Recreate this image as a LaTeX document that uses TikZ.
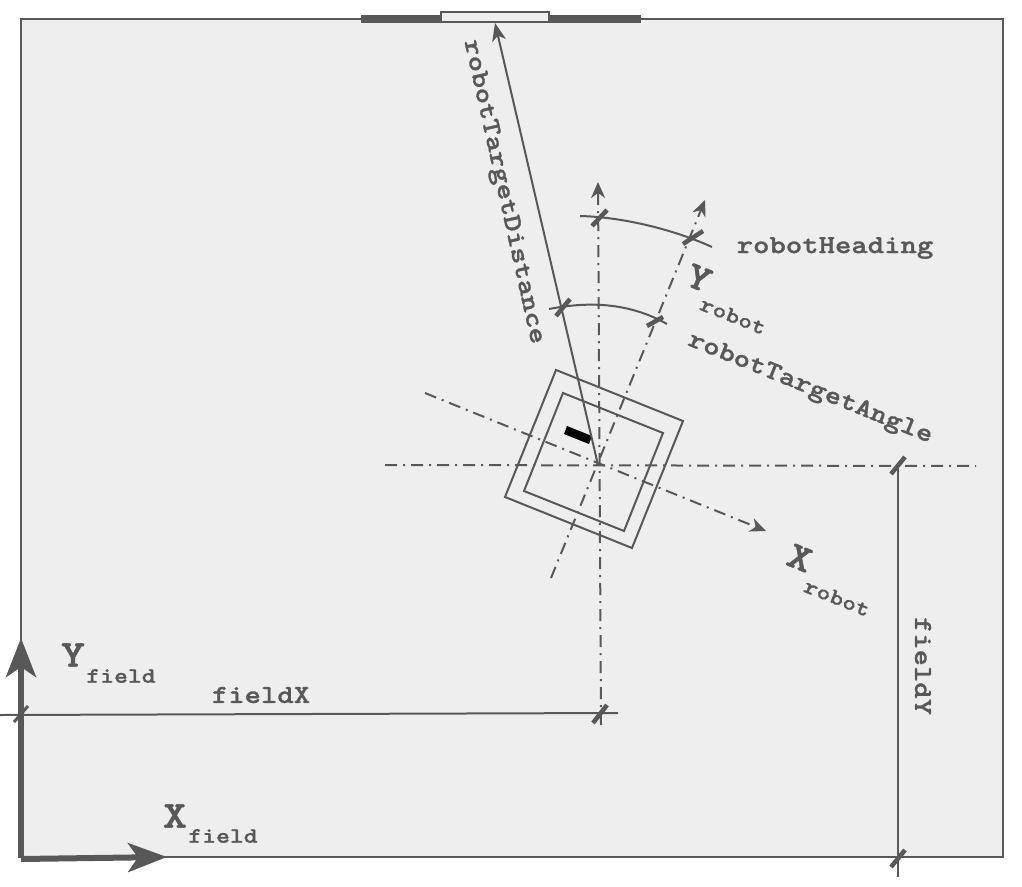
\documentclass[tikz,border=0pt]{standalone}
\usepackage{fontspec}
\usetikzlibrary{arrows.meta}
\newfontfamily\labelfont[Extension=.otf,FakeStretch=1.2,FakeBold=1.2]{lmmonolt10-bold}
\definecolor{inkgray}{HTML}{585858}
\definecolor{fieldgray}{HTML}{EEEEEE}
\begin{document}
\begin{tikzpicture}[x=1pt,y=-1pt,
    line/.style={draw=inkgray,line width=2pt},
    axisline/.style={line,line width=2pt,dash pattern=on 12pt off 6pt on 2pt off 6pt,
        -{Stealth[length=16pt,width=14pt,inset=5pt]}},
    tick/.style={line,line width=4.5pt},
    dimtext/.style={inner sep=0pt,text=inkgray,font=\labelfont\fontsize{26}{26}\selectfont},
    bigtext/.style={inner sep=0pt,text=inkgray,font=\labelfont\fontsize{38}{38}\selectfont},
    subtext/.style={inner sep=0pt,text=inkgray,font=\labelfont\fontsize{22}{22}\selectfont}]
    \useasboundingbox (0,0) rectangle (1022,886);
    % field
    \coordinate (fieldNW) at (21,19);
    \coordinate (fieldSE) at (1003,857);
    \draw[line,fill=fieldgray] (fieldNW) rectangle (fieldSE);
    % target
    \coordinate (wallL) at (361,19);
    \coordinate (wallR) at (641,19);
    \coordinate (goalNW) at (441,12);
    \coordinate (goalSE) at (549,22);
    \draw[line,line width=8pt] (wallL) -- (wallR);
    \draw[line,fill=fieldgray] (goalNW) rectangle (goalSE);
    % robot
    \coordinate (center) at (598,465);
    \coordinate (targetEnd) at (495,23);
    \draw[line] (556,370) -- (683,421) -- (632,548) -- (505,497) -- cycle;
    \draw[line] (563,393) -- (663,433) -- (624,531) -- (524,491) -- cycle;
    \fill[black] (567,426) -- (592,436) -- (589,444) -- (564,434) -- cycle;
    % axes through the robot
    \coordinate (headS) at (601,725);
    \coordinate (headN) at (598,182);
    \coordinate (horizW) at (385,465);
    \coordinate (horizE) at (976,466);
    \coordinate (robotYs) at (551,578);
    \coordinate (robotYn) at (705,200);
    \coordinate (robotXw) at (425,393);
    \coordinate (robotXe) at (766,531);
    \draw[axisline] (headS) -- (headN);
    \draw[axisline,-] (horizW) -- (horizE);
    \draw[axisline] (robotYs) -- (robotYn);
    \draw[axisline] (robotXw) -- (robotXe);
    \draw[line,-{Stealth[length=18pt,width=14pt,inset=5pt]}] (center) -- (targetEnd);
    % arcs
    \coordinate (headingL) at (580,216);
    \coordinate (headingR) at (712,247);
    \coordinate (angleL) at (549,309);
    \coordinate (angleR) at (667,324);
    \draw[line] (headingL) .. controls (620,217) and (670,228) .. (headingR);
    \draw[line] (angleL) .. controls (590,301) and (630,303) .. (angleR);
    \draw[tick] (592,226) -- (607,210);
    \draw[tick] (683,244) -- (703,231);
    \draw[tick] (556,316) -- (570,299);
    \draw[tick] (647,326) -- (663,317);
    % field dimensions
    \coordinate (dimXl) at (0,715);
    \coordinate (dimXr) at (618,713);
    \coordinate (dimYt) at (898,466);
    \coordinate (dimYb) at (898,877);
    \draw[line] (dimXl) -- (dimXr);
    \draw[line] (dimYt) -- (dimYb);
    \draw[tick,line width=3pt] (14,722) -- (28,706);
    \draw[tick] (593,723) -- (607,705);
    \draw[tick] (891,474) -- (905,457);
    \draw[tick] (891,867) -- (905,850);
    % field axes
    \coordinate (originY) at (21,858);
    \coordinate (fieldYtip) at (21,638);
    \coordinate (originX) at (21,859);
    \coordinate (fieldXtip) at (167,857);
    \draw[line,line width=6pt,-{Stealth[length=39pt,width=30pt,inset=10pt]}] (originY) -- (fieldYtip);
    \draw[line,line width=6pt,-{Stealth[length=39pt,width=29pt,inset=10pt]}] (originX) -- (fieldXtip);
    % labels
    \node[dimtext,rotate=-77.5] (distanceLabel) at (503,192) {robotTargetDistance};
    \node[dimtext] (headingLabel) at (835,248) {robotHeading};
    \node[dimtext,rotate=-22] (angleLabel) at (810,389) {robotTargetAngle};
    \node[dimtext] (fieldXLabel) at (261,695) {fieldX};
    \node[dimtext,rotate=-90] (fieldYLabel) at (923,666) {fieldY};
    \node[bigtext] (yField) at (73,655) {Y};
    \node[subtext] (yFieldSub) at (121,676) {field};
    \node[bigtext] (xField) at (175,816) {X};
    \node[subtext] (xFieldSub) at (223,836) {field};
    \node[bigtext,rotate=-22] (yRobot) at (699,278) {Y};
    \node[subtext,rotate=-22] (yRobotSub) at (733,316) {robot};
    \node[bigtext,rotate=-22] (xRobot) at (800,558) {X};
    \node[subtext,rotate=-22] (xRobotSub) at (837,598) {robot};
\end{tikzpicture}
\end{document}
